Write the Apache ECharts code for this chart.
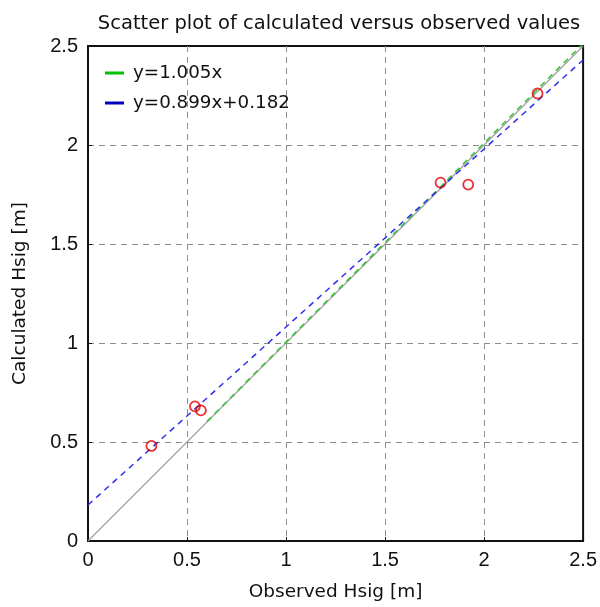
<!DOCTYPE html>
<html>
<head>
<meta charset="utf-8">
<script src="https://cdn.jsdelivr.net/npm/echarts@6/dist/echarts.min.js"></script>
<style>html,body{margin:0;padding:0;background:#fff;}#c{width:600px;height:607px;}</style>
</head>
<body>
<div id="c"></div>
<script>
const titleText = 'Scatter plot of calculated versus observed values';
const xName = 'Observed Hsig [m]';
const yName = 'Calculated Hsig [m]';
const axisMin = 0, axisMax = 2.5, axisStep = 0.5;

const observed = [0.32, 0.54, 0.57, 1.78, 1.92, 2.27];
const calculated = [0.48, 0.68, 0.66, 1.81, 1.80, 2.26];

const identityX = [0, 2.5];
const identityY = [0, 2.5];

const fit1Name = 'y=1.005x';
const fit1X = [0.6, 2.5];
const fit1Y = [0.603, 2.5125];

const fit2Name = 'y=0.899x+0.182';
const fit2X = [0, 2.5];
const fit2Y = [0.182, 2.4295];

const zip = (a, b) => a.map((v, i) => [v, b[i]]);
const font = 'DejaVu Sans, Verdana, sans-serif';
const tickFont = 'Liberation Sans, Arial, sans-serif';

const gridLine = { show: true, showMinLine: false, showMaxLine: false, lineStyle: { color: '#8c8c8c', type: [6, 5], width: 1 } };

const chart = echarts.init(document.getElementById('c'));
chart.setOption({
  animation: false,
  backgroundColor: '#fff',
  title: {
    text: titleText, left: 334, top: 9, textAlign: 'center',
    textStyle: { fontFamily: font, fontSize: 19.5, fontWeight: 'normal', color: '#111' }
  },
  legend: {
    left: 100, top: 59, orient: 'vertical', itemGap: 12,
    itemWidth: 19, itemHeight: 3, icon: 'rect',
    data: [fit1Name, fit2Name],
    textStyle: { fontFamily: font, fontSize: 18.3, color: '#111', padding: [0, 0, 0, 4] }
  },
  grid: { left: 88, right: 16, top: 46, bottom: 63, show: true, borderColor: '#111', borderWidth: 2, backgroundColor: '#fff' },
  xAxis: {
    type: 'value', min: axisMin, max: axisMax, interval: axisStep,
    name: xName, nameLocation: 'middle', nameGap: 42,
    nameTextStyle: { fontFamily: font, fontSize: 18.5, color: '#111' },
    axisLine: { show: true, onZero: false, lineStyle: { color: '#111', width: 2 } },
    axisTick: { show: true, inside: true, length: 4, lineStyle: { color: '#111' } },
    axisLabel: { fontFamily: tickFont, fontSize: 20, color: '#111', margin: 9 },
    splitLine: gridLine
  },
  yAxis: {
    type: 'value', min: axisMin, max: axisMax, interval: axisStep,
    name: yName, nameLocation: 'middle', nameGap: 58,
    nameTextStyle: { fontFamily: font, fontSize: 18.5, color: '#111' },
    axisLine: { show: true, onZero: false, lineStyle: { color: '#111', width: 2 } },
    axisTick: { show: true, inside: true, length: 4, lineStyle: { color: '#111' } },
    axisLabel: { fontFamily: tickFont, fontSize: 20, color: '#111', margin: 10 },
    splitLine: gridLine
  },
  series: [
    {
      name: 'identity', type: 'line', data: zip(identityX, identityY),
      symbol: 'none', lineStyle: { color: '#a0a0a0', width: 1.2 }, z: 2, silent: true
    },
    {
      name: fit1Name, type: 'line', data: zip(fit1X, fit1Y),
      symbol: 'none', itemStyle: { color: '#00c000' },
      lineStyle: { color: '#33c033', width: 1.5, type: [6, 5] }, z: 3
    },
    {
      name: fit2Name, type: 'line', data: zip(fit2X, fit2Y),
      symbol: 'none', itemStyle: { color: '#0000c0' },
      lineStyle: { color: '#3030f0', width: 1.5, type: [6, 5] }, z: 4
    },
    {
      name: 'points', type: 'scatter', data: zip(observed, calculated),
      symbol: 'circle', symbolSize: 10,
      itemStyle: { color: 'rgba(255,255,255,0)', borderColor: '#e00000', borderWidth: 1.8 }, z: 5
    }
  ]
});
</script>
</body>
</html>
